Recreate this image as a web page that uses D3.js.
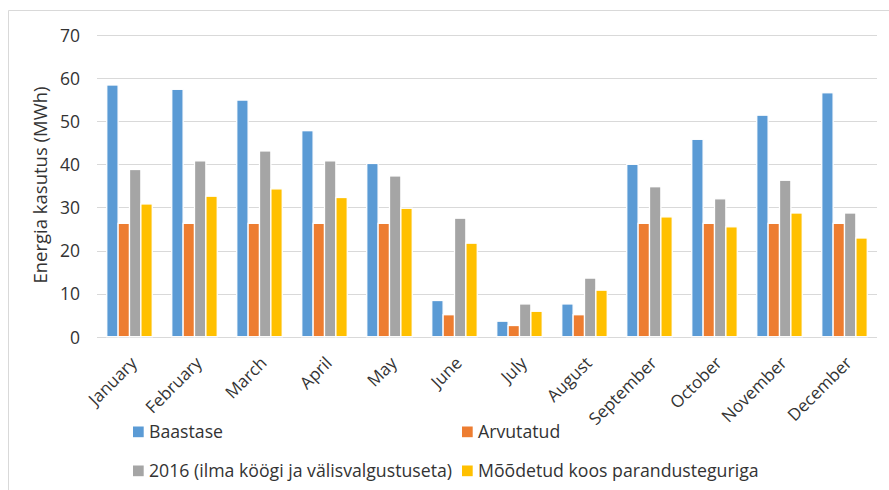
<!DOCTYPE html>
<html>
<head>
<meta charset="utf-8">
<script src="https://cdn.jsdelivr.net/npm/d3@7"></script>
<style>
  html, body { margin: 0; padding: 0; background: #fff; }
  svg { display: block; }
  text { font-family: "Open Sans", Lato, sans-serif; fill: #333; }
</style>
</head>
<body>
<svg id="chart" width="889" height="490"></svg>
<script>
const months = ["January","February","March","April","May","June","July","August","September","October","November","December"];
const seriesNames = ["Baastase","Arvutatud","2016 (ilma köögi ja välisvalgustuseta)","Mõõdetud koos parandusteguriga"];
const baastase  = [58.4, 57.4, 54.9, 47.8, 40.2, 8.4, 3.6, 7.6, 40.0, 45.8, 51.4, 56.6];
const arvutatud = [26.3, 26.3, 26.3, 26.3, 26.3, 5.1, 2.6, 5.1, 26.3, 26.3, 26.3, 26.3];
const y2016     = [38.8, 40.8, 43.1, 40.8, 37.3, 27.5, 7.6, 13.6, 34.8, 32.0, 36.3, 28.7];
const moodetud  = [30.8, 32.6, 34.3, 32.3, 29.8, 21.7, 5.9, 10.8, 27.8, 25.5, 28.7, 22.9];
const yTicks = [0, 10, 20, 30, 40, 50, 60, 70];
const colors = ["#5B9BD5", "#ED7D31", "#A5A5A5", "#FFC000"];

const allSeries = [baastase, arvutatud, y2016, moodetud];
const svg = d3.select("#chart");
const FONT = "'Open Sans', Lato, sans-serif";
const TXT = "#333333";

// outer chart border
svg.append("path").attr("d", "M8.5,490 L8.5,10.5 L889,10.5")
  .attr("fill", "none").attr("stroke", "#D9D9D9").attr("stroke-width", 1);

const x0 = d3.scaleBand().domain(months).range([97, 877]).paddingInner(0.3).paddingOuter(0.15);
const x1 = d3.scaleBand().domain(d3.range(4)).range([0, x0.bandwidth()]);
const y = d3.scaleLinear().domain([0, 70]).range([336.7, 35]);

// gridlines
svg.append("g").selectAll("line").data(yTicks).join("line")
  .attr("x1", 97).attr("x2", 877)
  .attr("y1", d => Math.round(y(d)) + 0.5).attr("y2", d => Math.round(y(d)) + 0.5)
  .attr("stroke", "#D9D9D9").attr("stroke-width", 1);

// y axis labels
const yAxis = d3.axisLeft(y).tickValues(yTicks).tickSize(0).tickPadding(0);
const gy = svg.append("g").attr("transform", "translate(80,0)").call(yAxis);
gy.select(".domain").remove();
gy.selectAll("text").attr("font-size", 17.5).attr("fill", TXT)
  .style("font-family", FONT).attr("dy", "0.36em");

// bars
const groups = svg.append("g").selectAll("g").data(months).join("g")
  .attr("transform", d => `translate(${x0(d)},0)`);
groups.selectAll("rect").data((m, i) => allSeries.map((s, k) => ({k, v: s[i]}))).join("rect")
  .attr("x", d => x1(d.k))
  .attr("width", x1.bandwidth())
  .attr("y", d => y(d.v))
  .attr("height", d => y(0) - y(d.v))
  .attr("fill", d => colors[d.k])
  .attr("stroke", "#fff").attr("stroke-width", 1.3);

// x axis labels
const xAxis = d3.axisBottom(x0).tickSize(0).tickPadding(0);
const gx = svg.append("g").attr("transform", "translate(0,336.7)").call(xAxis);
gx.select(".domain").remove();
gx.selectAll("text")
  .attr("font-size", 17).attr("fill", TXT)
  .style("font-family", FONT)
  .attr("text-anchor", "end")
  .attr("y", 0).attr("dy", 0)
  .attr("transform", "translate(8.5,27.5) rotate(-45)");

// y axis title
svg.append("text")
  .attr("transform", "translate(47,185) rotate(-90)")
  .attr("text-anchor", "middle")
  .attr("font-size", 18.5)
  .attr("fill", TXT)
  .style("font-family", FONT)
  .text("Energia kasutus (MWh)");

// legend
const legendPos = [[133, 437.5], [462, 437.5], [133, 476.5], [462, 476.5]];
const lg = svg.append("g").selectAll("g").data(seriesNames).join("g")
  .attr("transform", (d, i) => `translate(${legendPos[i][0]},${legendPos[i][1]})`);
lg.append("rect").attr("x", 0).attr("y", -11).attr("width", 10.7).attr("height", 10.7)
  .attr("fill", (d, i) => colors[i]);
lg.append("text").attr("x", 16).attr("y", 0)
  .attr("font-size", 17.7).attr("fill", TXT)
  .style("font-family", FONT).text(d => d);
</script>
</body>
</html>
